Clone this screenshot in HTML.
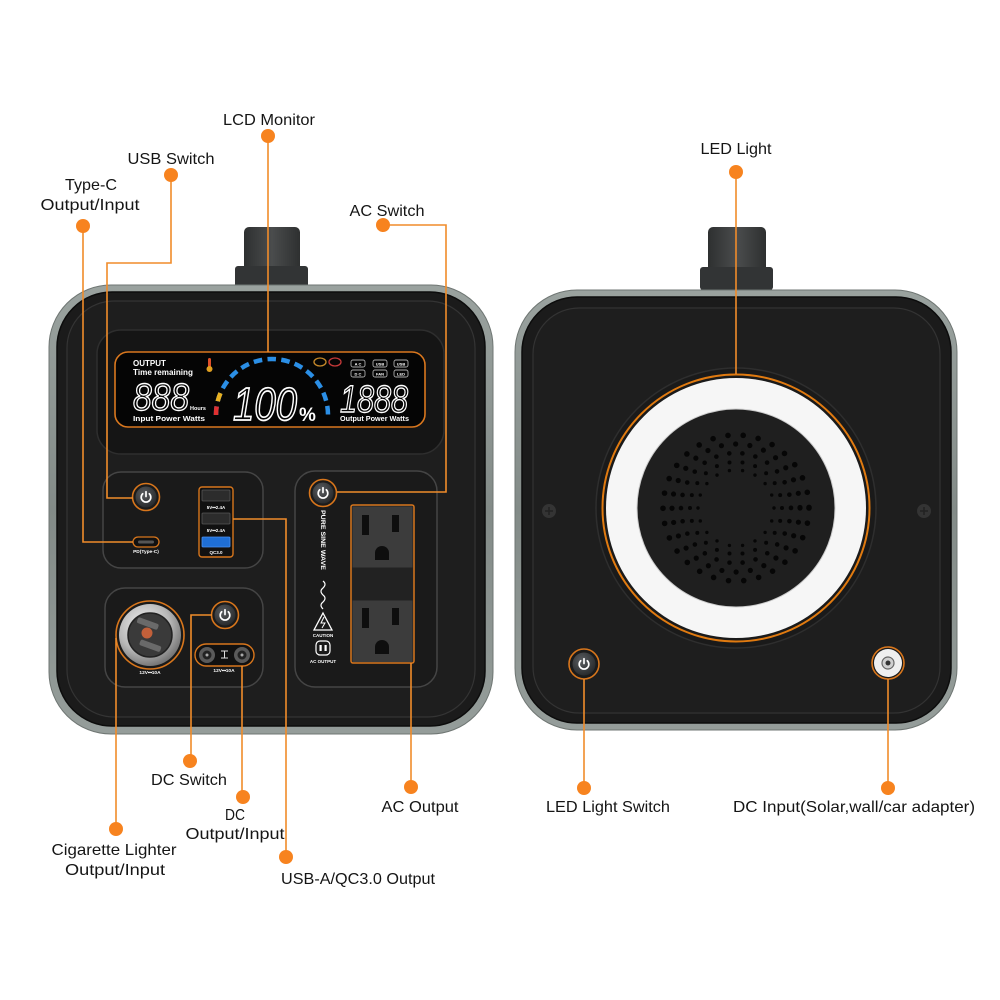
<!DOCTYPE html>
<html><head><meta charset="utf-8"><style>
html,body{margin:0;padding:0;background:#fff;}
svg{display:block;}
.lbl{font-family:"Liberation Sans",Arial,sans-serif;font-size:16px;fill:#151515;}
.lt{font-family:"Liberation Sans",Arial,sans-serif;font-weight:bold;fill:#fff;}
</style></head><body>
<svg width="1000" height="1000" viewBox="0 0 1000 1000" xmlns="http://www.w3.org/2000/svg">
<defs>
<linearGradient id="shell" x1="0" y1="0" x2="0" y2="1">
<stop offset="0" stop-color="#9aa29f"/><stop offset="0.5" stop-color="#838b88"/><stop offset="1" stop-color="#959d9a"/>
</linearGradient>
<linearGradient id="hnd" x1="0" y1="0" x2="1" y2="0">
<stop offset="0" stop-color="#2e3030"/><stop offset="0.5" stop-color="#4a4c4d"/><stop offset="1" stop-color="#2e3030"/>
</linearGradient>
<radialGradient id="btn" cx="0.4" cy="0.35" r="0.7">
<stop offset="0" stop-color="#5a5d60"/><stop offset="1" stop-color="#26282a"/>
</radialGradient>
<radialGradient id="silver" cx="0.4" cy="0.35" r="0.7">
<stop offset="0" stop-color="#f2f2f2"/><stop offset="0.6" stop-color="#b8b8b8"/><stop offset="1" stop-color="#6c6c6c"/>
</radialGradient>
<g id="pbtn">
<circle r="13.5" fill="#1b1b1b" stroke="#d8761c" stroke-width="1.6"/>
<circle r="10.5" fill="url(#btn)"/>
<path d="M-3.3 -3.2 A4.8 4.8 0 1 0 3.3 -3.2" fill="none" stroke="#fff" stroke-width="1.7" stroke-linecap="round"/>
<line x1="0" y1="-5.3" x2="0" y2="-0.5" stroke="#fff" stroke-width="1.7" stroke-linecap="round"/>
</g>
</defs>

<!-- ============ LEFT DEVICE ============ -->
<rect x="244" y="227" width="56" height="48" rx="5" fill="url(#hnd)"/>
<rect x="235" y="266" width="73" height="22" rx="3" fill="#323435"/>
<rect x="49" y="285" width="444" height="449" rx="62" fill="url(#shell)" stroke="#6f7673" stroke-width="1"/>
<rect x="57" y="292" width="428" height="434" rx="55" fill="#1b1b1b" stroke="#0c0c0c" stroke-width="1.5"/>
<rect x="67" y="301" width="408" height="416" rx="47" fill="#1e1e1e" stroke="#343434" stroke-width="1.2"/>

<!-- LCD recess -->
<rect x="97" y="330" width="347" height="124" rx="24" fill="#151515" stroke="#2e2e2e" stroke-width="1.5"/>
<rect x="115" y="352" width="310" height="75" rx="13" fill="#050505" stroke="#d9771e" stroke-width="1.6"/>
<text class="lt" x="133" y="366" font-size="8">OUTPUT</text>
<text class="lt" x="133" y="375" font-size="8" textLength="60" lengthAdjust="spacingAndGlyphs">Time remaining</text>
<rect x="208" y="358" width="3" height="10" rx="1.5" fill="#e0502a"/>
<circle cx="209.5" cy="369" r="3" fill="#e0a020"/>
<text x="133" y="410" font-family="Liberation Sans,sans-serif" font-size="38" fill="none" stroke="#fff" stroke-width="1.4" font-style="italic" textLength="56" lengthAdjust="spacingAndGlyphs">888</text>
<text class="lt" x="190" y="410" font-size="5.5">Hours</text>
<text class="lt" x="133" y="421" font-size="7" textLength="72" lengthAdjust="spacingAndGlyphs">Input Power  Watts</text>
<path d="M216 415 A56 56 0 0 1 328 415" fill="none" stroke="#2b8fe6" stroke-width="4.5" pathLength="12.65" stroke-dasharray="0.62 0.38"/>
<path d="M216 415 A56 56 0 0 1 328 415" fill="none" stroke="#e03030" stroke-width="4.5" pathLength="12.65" stroke-dasharray="0.62 100"/>
<path d="M216 415 A56 56 0 0 1 328 415" fill="none" stroke="#e8b020" stroke-width="4.5" pathLength="12.65" stroke-dasharray="0 1 0.62 100"/>
<text x="233" y="420" font-family="Liberation Sans,sans-serif" font-size="46" fill="none" stroke="#fff" stroke-width="1.7" font-style="italic" textLength="64" lengthAdjust="spacingAndGlyphs">100</text>
<text class="lt" x="299" y="421" font-size="19">%</text>
<text x="340" y="412" font-family="Liberation Sans,sans-serif" font-size="38" fill="none" stroke="#fff" stroke-width="1.4" font-style="italic" textLength="68" lengthAdjust="spacingAndGlyphs">1888</text>
<text class="lt" x="340" y="421" font-size="7" textLength="69" lengthAdjust="spacingAndGlyphs">Output Power  Watts</text>
<ellipse cx="320" cy="362" rx="6" ry="4" fill="none" stroke="#c88a2a" stroke-width="1.3"/>
<ellipse cx="335" cy="362" rx="6" ry="4" fill="none" stroke="#c83a3a" stroke-width="1.3"/>
<g fill="none" stroke="#aaa" stroke-width="0.9">
<rect x="351" y="360" width="14" height="7" rx="2"/><rect x="351" y="370" width="14" height="7" rx="2"/>
<rect x="373" y="360" width="14" height="7" rx="2"/><rect x="373" y="370" width="14" height="7" rx="2"/>
<rect x="394" y="360" width="14" height="7" rx="2"/><rect x="394" y="370" width="14" height="7" rx="2"/>
</g>
<g class="lt" font-size="4" text-anchor="middle">
<text x="358" y="365.5">A C</text><text x="358" y="375.5">D C</text>
<text x="380" y="365.5">USB</text><text x="380" y="375.5">FAN</text>
<text x="401" y="365.5">USB</text><text x="401" y="375.5">LED</text>
</g>

<!-- USB box -->
<rect x="103" y="472" width="160" height="96" rx="18" fill="#1a1a1a" stroke="#454545" stroke-width="1.5"/>
<use href="#pbtn" x="146" y="497"/>
<rect x="133" y="537" width="26" height="10" rx="5" fill="#111" stroke="#d8761c" stroke-width="1.3"/>
<rect x="138" y="540.5" width="16" height="3" rx="1.5" fill="#555"/>
<text class="lt" x="146" y="553" font-size="4.8" text-anchor="middle">PD(Type-C)</text>
<rect x="199" y="487" width="34" height="70" rx="3" fill="#111" stroke="#d8761c" stroke-width="1.4"/>
<rect x="202" y="490" width="28" height="11" rx="1" fill="#2c2c2c" stroke="#555" stroke-width="0.8"/>
<text class="lt" x="216" y="509" font-size="4.5" text-anchor="middle">5V⎓2.4A</text>
<rect x="202" y="513" width="28" height="11" rx="1" fill="#2c2c2c" stroke="#555" stroke-width="0.8"/>
<text class="lt" x="216" y="532" font-size="4.5" text-anchor="middle">5V⎓2.4A</text>
<rect x="202" y="537" width="28" height="10" rx="1" fill="#1f6fd6" stroke="#4a90f0" stroke-width="0.8"/>
<text class="lt" x="216" y="554" font-size="4.5" text-anchor="middle">QC3.0</text>

<!-- AC box -->
<rect x="295" y="471" width="142" height="216" rx="20" fill="#1a1a1a" stroke="#454545" stroke-width="1.5"/>
<use href="#pbtn" x="323" y="493"/>
<text class="lt" font-size="6.5" transform="translate(321,540) rotate(90)" text-anchor="middle" textLength="60" lengthAdjust="spacingAndGlyphs">PURE SINE WAVE</text>
<path d="M323 581 q4 3 0 7 q-4 3 0 7 q4 3 0 7 q-4 3 0 7" fill="none" stroke="#fff" stroke-width="1.2"/>
<path d="M323 613 L332 630 L314 630 Z" fill="none" stroke="#fff" stroke-width="1.3"/>
<path d="M324 617 L321 623 L325 623 L322 628" fill="none" stroke="#fff" stroke-width="1"/>
<text class="lt" x="323" y="637" font-size="4.5" text-anchor="middle">CAUTION</text>
<rect x="316" y="641" width="14" height="14" rx="4" fill="none" stroke="#fff" stroke-width="1.2"/>
<rect x="319.5" y="645" width="2.2" height="6" fill="#fff"/><rect x="324.5" y="645" width="2.2" height="6" fill="#fff"/>
<text class="lt" x="323" y="663" font-size="4.5" text-anchor="middle">AC OUTPUT</text>
<rect x="351" y="505" width="63" height="158" rx="2" fill="#222" stroke="#d8761c" stroke-width="1.5"/>
<rect x="352.5" y="506.5" width="60" height="61" fill="#3c3c3c"/>
<rect x="352.5" y="600.5" width="60" height="61.5" fill="#3c3c3c"/>
<g fill="#0e0e0e">
<rect x="362" y="515" width="7" height="20"/><rect x="392" y="515" width="7" height="17"/>
<path d="M375 560 V553 A7 7 0 0 1 389 553 V560 Z"/>
<rect x="362" y="608" width="7" height="20"/><rect x="392" y="608" width="7" height="17"/>
<path d="M375 654 V647 A7 7 0 0 1 389 647 V654 Z"/>
</g>

<!-- DC box -->
<rect x="105" y="588" width="158" height="99" rx="20" fill="#1a1a1a" stroke="#454545" stroke-width="1.5"/>
<circle cx="150" cy="635" r="34" fill="#1a1a1a" stroke="#d8761c" stroke-width="1.6"/>
<circle cx="150" cy="635" r="31" fill="url(#silver)"/>
<circle cx="150" cy="635" r="22" fill="#3a3a3a" stroke="#222" stroke-width="1.5"/>
<rect x="133" y="622" width="22" height="6" rx="2" fill="#6a6a6a" transform="rotate(20 150 635)"/>
<rect x="143" y="642" width="22" height="6" rx="2" fill="#6a6a6a" transform="rotate(20 150 635)"/>
<circle cx="147" cy="633" r="5.5" fill="#c2603a"/>
<text class="lt" x="150" y="674" font-size="4.8" text-anchor="middle">12V⎓10A</text>
<use href="#pbtn" x="225" y="615"/>
<rect x="195" y="644" width="59" height="22" rx="11" fill="#111" stroke="#d8761c" stroke-width="1.4"/>
<g>
<circle cx="207" cy="655" r="8" fill="#5a5a5a"/><circle cx="207" cy="655" r="4.5" fill="#222"/><circle cx="207" cy="655" r="1.5" fill="#aaa"/>
<circle cx="242" cy="655" r="8" fill="#5a5a5a"/><circle cx="242" cy="655" r="4.5" fill="#222"/><circle cx="242" cy="655" r="1.5" fill="#aaa"/>
</g>
<path d="M221 651 H228 M224.5 651 V658 M221 658 H228" stroke="#ddd" stroke-width="1"/>
<text class="lt" x="224" y="672" font-size="4.8" text-anchor="middle">12V⎓10A</text>

<!-- ============ RIGHT DEVICE ============ -->
<rect x="708" y="227" width="58" height="48" rx="5" fill="url(#hnd)"/>
<rect x="700" y="267" width="73" height="23" rx="3" fill="#323435"/>
<rect x="515" y="290" width="442" height="440" rx="62" fill="url(#shell)" stroke="#6f7673" stroke-width="1"/>
<rect x="522" y="297" width="429" height="426" rx="55" fill="#1b1b1b" stroke="#0c0c0c" stroke-width="1.5"/>
<rect x="533" y="308" width="407" height="405" rx="46" fill="#1e1e1e" stroke="#333" stroke-width="1.2"/>
<circle cx="549" cy="511" r="7" fill="#343434"/><path d="M545 511 H553 M549 507 V515" stroke="#222" stroke-width="1.5"/>
<circle cx="924" cy="511" r="7" fill="#343434"/><path d="M920 511 H928 M924 507 V515" stroke="#222" stroke-width="1.5"/>
<circle cx="736" cy="508" r="140" fill="#1a1a1a" stroke="#2e2e2e" stroke-width="1.5"/>
<circle cx="736" cy="508" r="133.5" fill="none" stroke="#e07a10" stroke-width="2"/>
<circle cx="736" cy="508" r="130" fill="#f6f6f6"/>
<circle cx="736" cy="508" r="99" fill="#1f1f1f" stroke="#ccc" stroke-width="1"/>
<g fill="none" stroke="#060606" stroke-linecap="round">
<circle cx="736" cy="508" r="38" stroke-width="3.4" pathLength="18" stroke-dasharray="0 1"/>
<circle cx="736" cy="508" r="46" stroke-width="4" pathLength="22" stroke-dasharray="0 1"/>
<circle cx="736" cy="508" r="55" stroke-width="4.6" pathLength="26" stroke-dasharray="0 1"/>
<circle cx="736" cy="508" r="64" stroke-width="5.2" pathLength="28" stroke-dasharray="0 1"/>
<circle cx="736" cy="508" r="73" stroke-width="5.6" pathLength="30" stroke-dasharray="0 1"/>
</g>
<g>
<circle cx="584" cy="664" r="15" fill="#1b1b1b" stroke="#d8761c" stroke-width="1.6"/>
<circle cx="584" cy="664" r="11.5" fill="url(#btn)"/>
<path d="M580.7 660.8 A4.8 4.8 0 1 0 587.3 660.8" fill="none" stroke="#fff" stroke-width="1.7" stroke-linecap="round"/>
<line x1="584" y1="658.7" x2="584" y2="663.5" stroke="#fff" stroke-width="1.7" stroke-linecap="round"/>
</g>
<circle cx="888" cy="663" r="16" fill="#1b1b1b" stroke="#d8761c" stroke-width="1.6"/>
<circle cx="888" cy="663" r="14" fill="#efefef"/>
<circle cx="888" cy="663" r="6" fill="#d0d0d0" stroke="#666" stroke-width="1.2"/>
<circle cx="888" cy="663" r="2.5" fill="#333"/>

<!-- ============ CONNECTORS ============ -->
<g fill="none" stroke="#f08c2a" stroke-width="1.6">
<path d="M83 226 V542 H133"/>
<path d="M171 175 V263 H107 V498 H133"/>
<path d="M268 136 V352"/>
<path d="M383 225 H446 V492 H337"/>
<path d="M233 519 H286 V857"/>
<path d="M116 638 V829"/>
<path d="M212 615 H191 V761"/>
<path d="M242 666 V797"/>
<path d="M411 663 V787"/>
<path d="M736 172 V374"/>
<path d="M584 679 V788"/>
<path d="M888 679 V788"/>
</g>
<g fill="#f7831f">
<circle cx="83" cy="226" r="7"/><circle cx="171" cy="175" r="7"/><circle cx="268" cy="136" r="7"/>
<circle cx="383" cy="225" r="7"/><circle cx="286" cy="857" r="7"/><circle cx="116" cy="829" r="7"/>
<circle cx="190" cy="761" r="7"/><circle cx="243" cy="797" r="7"/><circle cx="411" cy="787" r="7"/>
<circle cx="736" cy="172" r="7"/><circle cx="584" cy="788" r="7"/><circle cx="888" cy="788" r="7"/>
</g>

<!-- ============ LABELS ============ -->
<g class="lbl" text-anchor="middle">
<text x="269" y="125" textLength="92" lengthAdjust="spacingAndGlyphs">LCD Monitor</text>
<text x="171" y="164" textLength="87" lengthAdjust="spacingAndGlyphs">USB Switch</text>
<text x="91" y="190" textLength="52" lengthAdjust="spacingAndGlyphs">Type-C</text>
<text x="90" y="210" textLength="99" lengthAdjust="spacingAndGlyphs">Output/Input</text>
<text x="387" y="216" textLength="75" lengthAdjust="spacingAndGlyphs">AC Switch</text>
<text x="736" y="154" textLength="71" lengthAdjust="spacingAndGlyphs">LED Light</text>
<text x="189" y="785" textLength="76" lengthAdjust="spacingAndGlyphs">DC Switch</text>
<text x="235" y="820" textLength="20" lengthAdjust="spacingAndGlyphs">DC</text>
<text x="235" y="839" textLength="99" lengthAdjust="spacingAndGlyphs">Output/Input</text>
<text x="420" y="812" textLength="77" lengthAdjust="spacingAndGlyphs">AC Output</text>
<text x="114" y="855" textLength="125" lengthAdjust="spacingAndGlyphs">Cigarette Lighter</text>
<text x="115" y="875" textLength="100" lengthAdjust="spacingAndGlyphs">Output/Input</text>
<text x="358" y="884" textLength="154" lengthAdjust="spacingAndGlyphs">USB-A/QC3.0 Output</text>
<text x="608" y="812" textLength="124" lengthAdjust="spacingAndGlyphs">LED Light Switch</text>
<text x="854" y="812" textLength="242" lengthAdjust="spacingAndGlyphs">DC Input(Solar,wall/car adapter)</text>
</g>
</svg>
</body></html>
